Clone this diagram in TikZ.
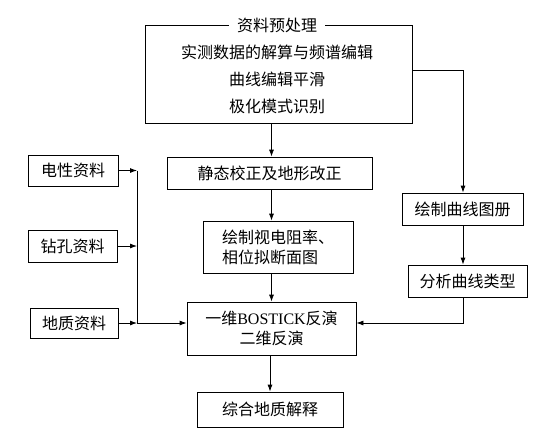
\documentclass[tikz,border=0pt]{standalone}
\usepackage{fontspec}
\setmainfont{Liberation Serif}
\newfontfamily\cjk{Noto Sans CJK SC}
\usetikzlibrary{arrows.meta}
\tikzset{%
  box/.style  = {shape=rectangle, draw, align=center, inner sep=0pt},%
  link/.style = {-{Latex[length=7pt,width=5pt]}}%
}

\begin{document}
\begin{tikzpicture}[x=1pt,y=-1pt,line width=0.8pt,
	every node/.style = {font=\cjk\fontsize{16}{20}\selectfont}]
	\useasboundingbox (0,0) rectangle (551,434);
	% preprocessing block
	\node [box, minimum width=267pt, minimum height=98pt] (pre) at (278.5,74) {};
	\node [fill=white, inner xsep=8pt, inner ysep=1pt] (pretitle) at (277,25) {资料预处理};
	\node [align=center, font=\cjk\fontsize{16}{27}\selectfont] (pretext) at (277,79)
		{实测数据的解算与频谱编辑\\曲线编辑平滑\\极化模式识别};
	% middle column
	\node [box, minimum width=205pt, minimum height=32pt] (static) at (269.5,173) {静态校正及地形改正};
	\node [box, minimum width=150pt, minimum height=52pt, align=left] (resist) at (278,247)
		{绘制视电阻率、\\相位拟断面图};
	\node [box, minimum width=169pt, minimum height=53pt] (invert) at (271.5,328.5)
		{一维{\rmfamily BOSTICK}反演\\二维反演};
	\node [box, minimum width=146pt, minimum height=35pt] (geo) at (270,409.5) {综合地质解释};
	% left column
	\node [box, minimum width=90pt, minimum height=31pt] (elec) at (73,170.5) {电性资料};
	\node [box, minimum width=89pt, minimum height=32pt] (drill) at (72.5,246) {钻孔资料};
	\node [box, minimum width=88pt, minimum height=30pt] (geol) at (74,323) {地质资料};
	% right column
	\node [box, minimum width=121pt, minimum height=32pt] (atlas) at (462.5,209) {绘制曲线图册};
	\node [box, minimum width=119pt, minimum height=32pt] (ctype) at (467.5,281) {分析曲线类型};
	\coordinate (bus) at (137,323);
	\coordinate (turn) at (463,70);
	% connectors
	\draw [link] (invert.north |- pre.south) -- (invert.north |- static.north);
	\draw [link] (invert.north |- static.south) -- (invert.north |- resist.north);
	\draw [link] (invert.north |- resist.south) -- (invert.north);
	\draw [link] (invert.south -| geo.north) -- (geo.north);
	\draw [link] (elec) -- (elec -| bus);
	\draw [link] (drill) -- (drill -| bus);
	\draw [link] (geol) -- (bus);
	\draw (bus |- elec) -- (bus);
	\draw [link] (bus) -- (invert.west |- bus);
	\draw [link] (pre.east |- turn) -- (turn) -- (turn |- atlas.north);
	\draw [link] (turn |- atlas.south) -- (turn |- ctype.north);
	\draw [link] (turn |- ctype.south) -- (turn |- bus) -- (invert.east |- bus);
\end{tikzpicture}
\end{document}
